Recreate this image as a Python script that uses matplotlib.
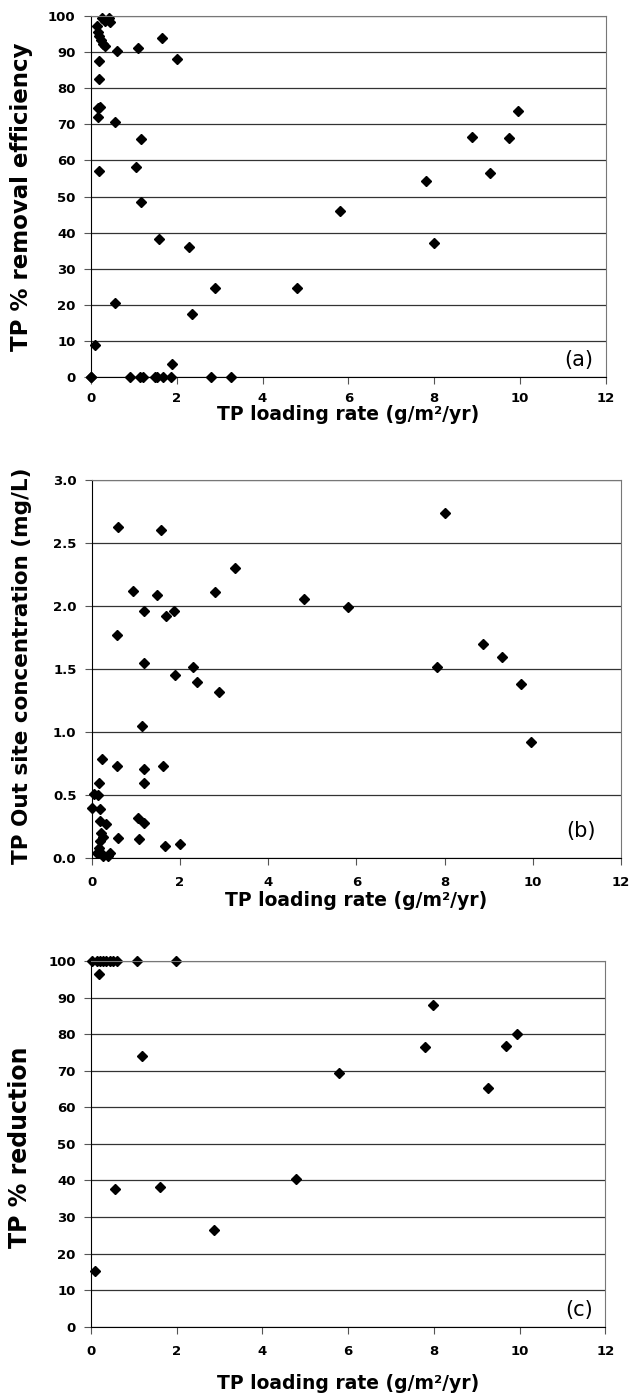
import numpy as np
import matplotlib
matplotlib.use('Agg')
import matplotlib.pyplot as plt

# Panel (a): TP % removal efficiency vs TP loading rate
a_x = [0.00, 0.10, 0.15, 0.26, 0.43, 0.44, 0.34, 0.18, 0.20, 0.23, 0.28, 0.33,
       0.19, 0.19, 0.18, 0.22, 0.16, 0.20, 0.62, 1.11, 1.67, 2.00, 0.57, 1.18,
       1.05, 1.18, 1.60, 2.29, 2.89, 4.81, 2.37, 0.57, 1.90,
       0.00, 0.92, 1.15, 1.21, 1.50, 1.55, 1.69, 1.88, 2.80, 3.26,
       9.94, 8.87, 9.73, 9.29, 7.80, 5.80, 8.00]
a_y = [0.0, 8.9, 97.3, 99.5, 99.4, 98.2, 98.6, 95.4, 94.3, 93.4, 92.3, 91.6,
       87.5, 82.5, 74.5, 74.8, 71.9, 57.1, 90.3, 91.2, 93.9, 88.0, 70.5, 65.8,
       58.1, 48.4, 38.2, 36.0, 24.8, 24.8, 17.5, 20.5, 3.7,
       0, 0, 0, 0, 0, 0, 0, 0, 0, 0,
       73.6, 66.5, 66.1, 56.4, 54.2, 45.9, 37.1]

# Panel (b): TP out site concentration vs TP loading rate
b_x = [0.59, 1.56, 3.26, 0.94, 1.48, 2.79, 4.81, 1.19, 1.68, 1.87, 0.57, 1.19,
       1.89, 2.30, 2.39, 2.89, 1.13, 0.23, 0.57, 1.19, 1.61, 1.18, 0.16, 0.05,
       0.14, 0.00, 0.18, 0.18, 0.33, 1.04, 1.19, 0.20, 0.26, 0.59, 1.08, 1.66,
       2.00, 0.18, 0.16, 0.20, 0.26, 0.36, 0.42, 0.12,
       8.01, 5.81, 8.87, 9.30, 7.82, 9.73, 9.97]
b_y = [2.63, 2.60, 2.30, 2.12, 2.09, 2.11, 2.06, 1.96, 1.92, 1.96, 1.77, 1.55,
       1.45, 1.52, 1.40, 1.32, 1.05, 0.79, 0.73, 0.71, 0.73, 0.60, 0.60, 0.51,
       0.50, 0.40, 0.39, 0.30, 0.27, 0.32, 0.28, 0.20, 0.17, 0.16, 0.15, 0.10,
       0.11, 0.14, 0.08, 0.04, 0.02, 0.02, 0.04, 0.04,
       2.74, 1.99, 1.70, 1.60, 1.52, 1.38, 0.92]

# Panel (c): TP % reduction vs TP loading rate
c_x = [0.02, 0.13, 0.21, 0.29, 0.36, 0.44, 0.52, 0.60, 1.08, 1.98,
       0.19, 1.18, 0.57, 1.60, 4.78, 2.88, 0.09,
       7.98, 7.79, 9.68, 9.93, 5.79, 9.27]
c_y = [100, 100, 100, 100, 100, 100, 100, 100, 100, 100,
       96.4, 74.0, 37.7, 38.3, 40.4, 26.4, 15.2,
       88.1, 76.4, 76.7, 80.0, 69.5, 65.2]

x_ticks = [0, 2, 4, 6, 8, 10, 12]
pct_ticks = list(range(0, 101, 10))
conc_ticks = [0.0, 0.5, 1.0, 1.5, 2.0, 2.5, 3.0]
xlabel = 'TP loading rate (g/m²/yr)'

plt.rcParams['font.family'] = ['DejaVu Sans']

fig = plt.figure(figsize=(6.3, 13.95), dpi=100)


def style_axes(ax, yticks, ylabels, ylabel, ysize, tag, tag_pos, xtpad, xpad, ylab_pos):
    ax.set_xlim(0, 12)
    ax.set_ylim(yticks[0], yticks[-1])
    ax.set_xticks(x_ticks)
    ax.set_yticks(yticks)
    ax.set_xticklabels([str(t) for t in x_ticks], fontweight='bold', fontsize=9.5)
    ax.set_yticklabels(ylabels, fontweight='bold', fontsize=9.5)
    ax.tick_params(axis='both', direction='out', length=5, width=0.8, color='#555555')
    ax.tick_params(axis='x', pad=xtpad)
    ax.tick_params(axis='y', pad=6)
    ax.yaxis.grid(True, color='#333333', linewidth=0.9)
    ax.set_axisbelow(True)
    ax.spines['left'].set_color('black')
    ax.spines['bottom'].set_color('black')
    ax.spines['right'].set_color('#777777')
    ax.spines['top'].set_color('#777777')
    ax.set_xlabel(xlabel, fontsize=13.5, fontweight='bold', labelpad=xpad)
    ax.set_ylabel(ylabel, fontsize=ysize, fontweight='bold')
    ax.yaxis.set_label_coords(ylab_pos[0], ylab_pos[1])
    ax.text(tag_pos[0], tag_pos[1], tag, transform=ax.transAxes,
            ha='right', va='bottom', fontsize=15)


ax1 = fig.add_axes([0.144, 0.7295, 0.818, 0.2592])
ax1.plot(a_x, a_y, linestyle='none', marker='D', markersize=5.5, color='black', clip_on=False)
style_axes(ax1, pct_ticks, [str(t) for t in pct_ticks], 'TP % removal efficiency', 16.5,
           '(a)', (0.975, 0.02), 5.5, 0, (-0.112, 0.5))

ax2 = fig.add_axes([0.1456, 0.3847, 0.840, 0.2712])
ax2.plot(b_x, b_y, linestyle='none', marker='D', markersize=5.5, color='black', clip_on=False)
style_axes(ax2, conc_ticks, ['%.1f' % t for t in conc_ticks], 'TP Out site concentration (mg/L)', 15.5,
           '(b)', (0.952, 0.045), 8, 1, (-0.113, 0.51))

ax3 = fig.add_axes([0.1444, 0.049, 0.8163, 0.2621])
ax3.plot(c_x, c_y, linestyle='none', marker='D', markersize=5.5, color='black', clip_on=False)
style_axes(ax3, pct_ticks, [str(t) for t in pct_ticks], 'TP % reduction', 17,
           '(c)', (0.977, 0.018), 8, 12, (-0.115, 0.49))

fig.savefig('out.png', dpi=100)
